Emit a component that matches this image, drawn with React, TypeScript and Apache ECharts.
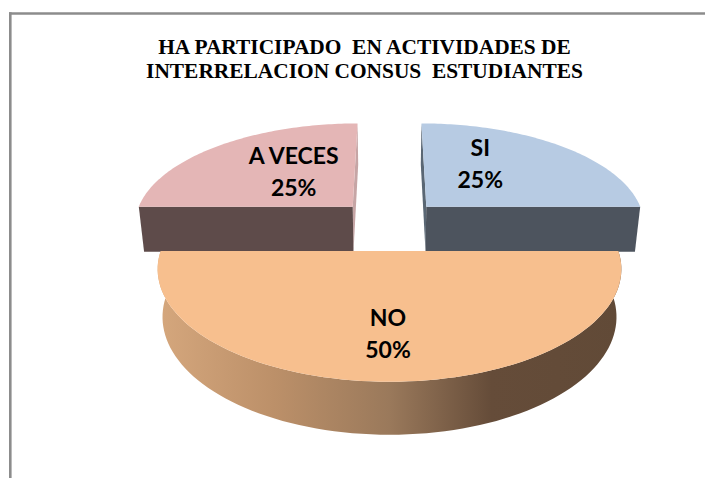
import React, { useEffect, useRef } from "react";
import * as echarts from "echarts";

const titleLines = ["HA PARTICIPADO  EN ACTIVIDADES DE", "INTERRELACION CONSUS  ESTUDIANTES"];
const categories = ["SI", "NO", "A VECES"];
const values = [25, 50, 25];
const topColors = ["#B7CBE3", "#F7BF8E", "#E4B6B6"];
const sideColors = ["#4D545E", "#614A37", "#5E4B4A"];
const sliverColors = ["#5A6774", "#614A37", "#C6A5A5"];

const CX = 389.5;
const CY = 223.6;
const RX = 219.6;
const RY = 101;
const K = 0.155;
const SHRINK = 0.979;

const project = (u: number, v: number) => {
  const s = 1 / (1 + K * v);
  return [CX + RX * u * s, CY - RY * v * s];
};
const lower = (p: number[]) => [
  CX + (p[0] - CX) * SHRINK,
  p[1] + 45 + (p[1] - 206.7) * 0.0457,
];

const total = values.reduce((a, b) => a + b, 0);
const LABEL_OFFSETS = [[54, -44], [-1.5, 82], [-59, -36]];
const EXPLODE = [0.172 * Math.SQRT2, 0.26, 0.172 * Math.SQRT2];

const renderItem = (params: any, api: any) => {
  const i = params.dataIndex;
  const val = api.value(1);
  const before = values.slice(0, i).reduce((a, b) => a + b, 0);
  const start = Math.PI / 2 - (before / total) * 2 * Math.PI;
  const sweep = (val / total) * 2 * Math.PI;
  const mid = start - sweep / 2;
  const ax = Math.cos(mid) * EXPLODE[i];
  const ay = Math.sin(mid) * EXPLODE[i];
  const apex = project(ax, ay);
  const arc: number[][] = [];
  const steps = 90;
  for (let s = 0; s <= steps; s++) {
    const t = start - (sweep * s) / steps;
    arc.push(project(ax + Math.cos(t), ay + Math.sin(t)));
  }
  const low = arc.map(lower);
  const z = i === 1 ? 10 : 0;
  const wallFill = new echarts.graphic.LinearGradient(0, 0, 1, 0, [
    { offset: 0, color: "#D5A77D" },
    { offset: 0.25, color: "#BC9069" },
    { offset: 0.5, color: "#9A795B" },
    { offset: 0.72, color: "#654C39" },
    { offset: 1, color: "#614A37" },
  ]);
  const poly = (pts: number[][], fill: any, z2: number) => ({
    type: "polygon",
    z2: z + z2,
    shape: { points: pts },
    style: { fill },
  });
  // the radial edge that runs away from the viewer shows only as a thin sliver
  const startIsDepth = Math.abs(Math.cos(start)) < 0.01;
  const depthEdge = startIsDepth ? arc[0] : arc[arc.length - 1];
  const frontEdge = startIsDepth ? arc[arc.length - 1] : arc[0];
  const [ox, oy] = LABEL_OFFSETS[i];
  const label = (text: string, y: number) => ({
    type: "text",
    z2: z + 5,
    style: {
      text,
      x: apex[0] + ox,
      y: apex[1] + oy + y,
      align: "center",
      verticalAlign: "middle",
      fontFamily: "Lato",
      fontWeight: "bold",
      fontSize: 23,
      fill: "#000000",
    },
  });
  const faces =
    Math.sin(mid) < 0
      ? [poly([...arc, ...low.slice().reverse()], wallFill, 1)]
      : [
          poly([apex, depthEdge, lower(depthEdge), lower(apex)], sliverColors[i], 2),
          poly([apex, frontEdge, lower(frontEdge), lower(apex)], sideColors[i], 3),
        ];
  return {
    type: "group",
    children: [
      ...faces,
      poly([apex, ...arc], topColors[i], 4),
      label(categories[i], -16),
      label(`${val}%`, 16),
    ],
  };
};

export default function App() {
  const ref = useRef<HTMLDivElement>(null);
  useEffect(() => {
    const chart = echarts.init(ref.current!, undefined, { renderer: "svg" });
    chart.setOption({
      animation: false,
      backgroundColor: "#ffffff",
      title: {
        text: titleLines.join("\n"),
        left: 359.5,
        top: 30,
        textAlign: "center",
        textStyle: {
          fontFamily: "Liberation Serif",
          fontWeight: "bold",
          fontSize: 21.4,
          lineHeight: 24,
          color: "#000000",
        },
      },
      graphic: [
        { type: "line", shape: { x1: 9, y1: 13.5, x2: 705, y2: 13.5 }, style: { stroke: "#8C8C8C", lineWidth: 2.6 } },
        { type: "line", shape: { x1: 10.3, y1: 12.2, x2: 10.3, y2: 478 }, style: { stroke: "#8C8C8C", lineWidth: 2.6 } },
      ],
      series: [
        {
          type: "custom",
          coordinateSystem: "none",
          silent: true,
          renderItem,
          data: values.map((v, i) => [i, v]),
        },
      ],
    });
    return () => chart.dispose();
  }, []);
  return <div ref={ref} style={{ position: "absolute", left: 0, top: 0, width: 705, height: 478 }} />;
}
